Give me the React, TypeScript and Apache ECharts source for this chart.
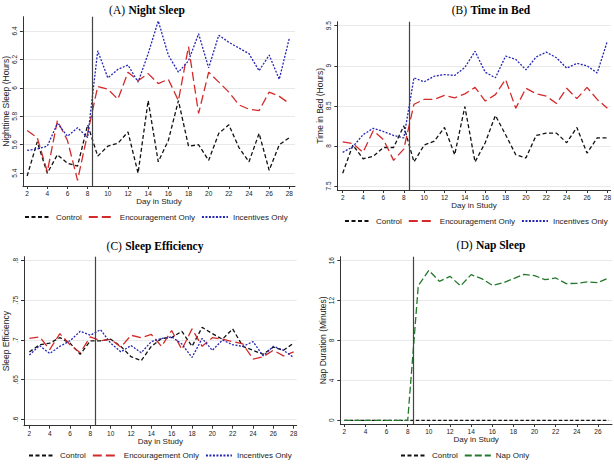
import React, { useEffect, useRef } from "react";
import * as echarts from "echarts";

const days = [2, 3, 4, 5, 6, 7, 8, 9, 10, 11, 12, 13, 14, 15, 16, 17, 18, 19, 20, 21, 22, 23, 24, 25, 26, 27, 28];
const napDays = [2, 3, 4, 5, 6, 7, 8, 9, 10, 11, 12, 13, 14, 15, 16, 17, 18, 19, 20, 21, 22, 23, 24, 25, 26, 27];

const nightControl = [5.38, 5.62, 5.40, 5.53, 5.47, 5.45, 5.74, 5.52, 5.59, 5.61, 5.69, 5.40, 5.91, 5.48, 5.63, 5.91, 5.59, 5.60, 5.49, 5.68, 5.74, 5.58, 5.48, 5.68, 5.42, 5.60, 5.65];
const nightEncourage = [5.70, 5.65, 5.41, 5.77, 5.63, 5.35, 5.68, 6.01, 5.99, 5.92, 6.11, 6.05, 6.10, 6.03, 6.06, 5.91, 6.29, 5.82, 6.11, 6.04, 5.97, 5.88, 5.85, 5.84, 5.97, 5.94, 5.89];
const nightIncent = [5.56, 5.57, 5.59, 5.75, 5.66, 5.72, 5.65, 6.26, 6.07, 6.13, 6.16, 6.04, 6.24, 6.47, 6.23, 6.11, 6.19, 6.38, 6.14, 6.37, 6.32, 6.28, 6.24, 6.12, 6.23, 6.06, 6.35];

const bedControl = [7.66, 8.01, 7.84, 7.87, 7.98, 7.98, 8.25, 7.80, 8.01, 8.06, 8.23, 7.89, 8.49, 7.80, 8.04, 8.38, 8.14, 7.89, 7.85, 8.13, 8.16, 8.16, 8.04, 8.23, 7.91, 8.10, 8.10];
const bedEncourage = [8.05, 8.03, 7.92, 8.19, 8.08, 7.82, 7.96, 8.52, 8.58, 8.58, 8.63, 8.60, 8.65, 8.73, 8.56, 8.64, 8.83, 8.47, 8.72, 8.65, 8.62, 8.53, 8.72, 8.59, 8.73, 8.58, 8.47];
const bedIncent = [7.92, 7.99, 8.14, 8.22, 8.18, 8.13, 8.10, 8.85, 8.80, 8.87, 8.89, 8.88, 8.98, 9.18, 8.92, 8.85, 9.12, 9.08, 8.95, 9.11, 9.17, 9.10, 8.97, 9.03, 9.00, 8.91, 9.31];

const effControl = [0.685, 0.694, 0.696, 0.703, 0.696, 0.682, 0.699, 0.699, 0.701, 0.692, 0.679, 0.674, 0.692, 0.702, 0.703, 0.711, 0.692, 0.716, 0.708, 0.701, 0.714, 0.692, 0.687, 0.682, 0.691, 0.687, 0.696];
const effEncourage = [0.702, 0.704, 0.688, 0.708, 0.694, 0.684, 0.704, 0.699, 0.701, 0.691, 0.706, 0.703, 0.707, 0.692, 0.712, 0.688, 0.714, 0.692, 0.703, 0.701, 0.698, 0.695, 0.676, 0.679, 0.687, 0.680, 0.685];
const effIncent = [0.681, 0.693, 0.683, 0.692, 0.699, 0.711, 0.706, 0.713, 0.696, 0.685, 0.693, 0.684, 0.698, 0.702, 0.704, 0.695, 0.678, 0.702, 0.687, 0.700, 0.694, 0.692, 0.698, 0.680, 0.692, 0.687, 0.678];

const napControl = [0, 0, 0, 0, 0, 0, 0, 0, 0, 0, 0, 0, 0, 0, 0, 0, 0, 0, 0, 0, 0, 0, 0, 0, 0, 0];
const napOnly = [0, 0, 0, 0, 0, 0, 0, 13.5, 15.03, 13.93, 14.43, 13.47, 14.6, 14.2, 13.53, 13.77, 14.2, 14.63, 14.5, 14.1, 14.27, 13.7, 13.73, 13.87, 13.8, 14.27];

const xTicksA = [2, 4, 6, 8, 10, 12, 14, 16, 18, 20, 22, 24, 26, 28];
const xTicksD = [2, 4, 6, 8, 10, 12, 14, 16, 18, 20, 22, 24, 26];
const yTicksA = [5.4, 5.6, 5.8, 6, 6.2, 6.4];
const yTicksB = [7.5, 8, 8.5, 9, 9.5];
const yTicksC = [0.6, 0.65, 0.7, 0.75, 0.8];
const yTicksD = [0, 4, 8, 12, 16];

const SANS = "Liberation Sans";
const SERIF = "Liberation Serif";
const RED = "#d42a2a";
const BLUE = "#2626b4";
const GREEN = "#23782a";

export default function App() {
  const ref = useRef<HTMLDivElement>(null);
  useEffect(() => {
    if (!ref.current) return;
    const chart = echarts.init(ref.current, null, { renderer: "svg" });

    const panels = [
      { left: 19, top: 16.7, width: 276, height: 169.3, xmin: 1.58, xmax: 28.56, ymin: 5.31, ymax: 6.5, xt: xTicksA, yt: yTicksA, yname: "Nighttime Sleep (Hours)", nameGap: 11 },
      { left: 337.3, top: 21.7, width: 274.7, height: 168.3, xmin: 1.47, xmax: 28.32, ymin: 7.45, ymax: 9.55, xt: xTicksA, yt: yTicksB, yname: "Time in Bed (Hours)", nameGap: 10 },
      { left: 22.3, top: 256.7, width: 274.4, height: 169, xmin: 1.47, xmax: 28.3, ymin: 0.592, ymax: 0.805, xt: xTicksA, yt: yTicksC, yname: "Sleep Efficiency", nameGap: 14 },
      { left: 340.3, top: 256.7, width: 271.7, height: 167.3, xmin: 1.62, xmax: 27.33, ymin: -0.37, ymax: 16.4, xt: xTicksD, yt: yTicksD, yname: "Nap Duration (Minutes)", nameGap: 13 },
    ];

    const grid = panels.map((p) => ({ left: p.left, top: p.top, width: p.width, height: p.height, containLabel: false }));
    const axisCol = "#333";
    const xAxis = panels.map((p, i) => ({
      type: "value",
      gridIndex: i,
      min: p.xmin,
      max: p.xmax,
      axisLine: { show: true, onZero: false, lineStyle: { color: axisCol, width: 1 } },
      axisTick: { show: true, length: 3, customValues: p.xt, lineStyle: { color: axisCol } },
      axisLabel: { customValues: p.xt, fontSize: 6.5, margin: 4, color: "#222", fontFamily: SANS },
      splitLine: { show: false },
      name: "Day in Study",
      nameLocation: "middle",
      nameGap: 11,
      nameTextStyle: { fontSize: 8, color: "#222", fontFamily: SANS },
    }));
    const yAxis = panels.map((p, i) => ({
      type: "value",
      gridIndex: i,
      min: p.ymin,
      max: p.ymax,
      axisLine: { show: true, onZero: false, lineStyle: { color: axisCol, width: 1 } },
      axisTick: { show: true, length: 3, customValues: p.yt, lineStyle: { color: axisCol } },
      axisLabel: {
        customValues: p.yt,
        rotate: 90,
        fontSize: 6.5,
        margin: 5,
        color: "#222",
        fontFamily: SANS,
        formatter: (v: number) => (i === 2 ? String(v).replace(/^0/, "") : String(v)),
      },
      splitLine: { show: true, lineStyle: { color: "#e9e9e9", width: 1 } },
      name: p.yname,
      nameLocation: "middle",
      nameGap: p.nameGap,
      nameTextStyle: { fontSize: 8.5, color: "#222", fontFamily: SANS },
    }));

    const vline = {
      silent: true,
      symbol: ["none", "none"],
      label: { show: false },
      lineStyle: { color: "#444", type: "solid", width: 1.2 },
      data: [{ xAxis: 8.5 }],
    };

    const mk = (name: string, xs: number[], ys: number[], idx: number, color: string, dash: number[], withLine = false) => ({
      type: "line",
      name,
      xAxisIndex: idx,
      yAxisIndex: idx,
      data: xs.map((d, k) => [d, ys[k]]),
      symbol: "none",
      showSymbol: false,
      lineStyle: { color, width: 1.3, type: dash },
      itemStyle: { color },
      z: 3,
      ...(withLine ? { markLine: vline } : {}),
    });

    const dCtrl = [4, 2.5];
    const dEnc = [9, 4];
    const dInc = [2, 1.5];

    const series = [
      mk("Control", days, nightControl, 0, "#111", dCtrl, true),
      mk("Encouragement Only", days, nightEncourage, 0, RED, dEnc),
      mk("Incentives Only", days, nightIncent, 0, BLUE, dInc),
      mk("Control", days, bedControl, 1, "#111", dCtrl, true),
      mk("Encouragement Only", days, bedEncourage, 1, RED, dEnc),
      mk("Incentives Only", days, bedIncent, 1, BLUE, dInc),
      mk("Control", days, effControl, 2, "#111", dCtrl, true),
      mk("Encouragement Only", days, effEncourage, 2, RED, dEnc),
      mk("Incentives Only", days, effIncent, 2, BLUE, dInc),
      mk("Control", napDays, napControl, 3, "#111", [3.5, 2], true),
      mk("Nap Only", napDays, napOnly, 3, GREEN, [7, 3]),
    ];

    const legendBase = {
      orient: "horizontal",
      itemWidth: 26,
      itemHeight: 8,
      itemGap: 6,
      padding: 0,
      width: 300,
      itemStyle: { opacity: 0, color: "transparent", borderWidth: 0 },
      textStyle: { fontSize: 8, color: "#222", fontFamily: SANS },
      selectedMode: false,
    };
    const legend = [
      { ...legendBase, left: 24, top: 213, data: ["Control", "Encouragement Only", "Incentives Only"] },
      { ...legendBase, left: 344, top: 217, data: ["Control", "Encouragement Only", "Incentives Only"] },
      { ...legendBase, left: 28, top: 451.5, data: ["Control", "Encouragement Only", "Incentives Only"] },
      { ...legendBase, left: 400, top: 451.5, data: ["Control", "Nap Only"] },
    ];

    const titleEl = (x: number, y: number, tag: string, txt: string) => ({
      type: "text",
      x,
      y,
      style: {
        text: `{a|${tag}} {b|${txt}}`,
        textAlign: "center",
        textVerticalAlign: "middle",
        rich: {
          a: { fontFamily: SERIF, fontSize: 11.5, color: "#111" },
          b: { fontFamily: SERIF, fontSize: 11.5, fontWeight: "bold", color: "#111" },
        },
      },
    });

    chart.setOption({
      animation: false,
      backgroundColor: "#fff",
      grid,
      xAxis,
      yAxis,
      series,
      legend,
      graphic: [
        titleEl(147, 10, "(A)", "Night Sleep"),
        titleEl(491, 10, "(B)", "Time in Bed"),
        titleEl(155, 246, "(C)", "Sleep Efficiency"),
        titleEl(491, 245, "(D)", "Nap Sleep"),
      ],
    });
    return () => chart.dispose();
  }, []);
  return <div ref={ref} style={{ position: "fixed", left: 0, top: 0, width: 614, height: 464, background: "#fff" }} />;
}
